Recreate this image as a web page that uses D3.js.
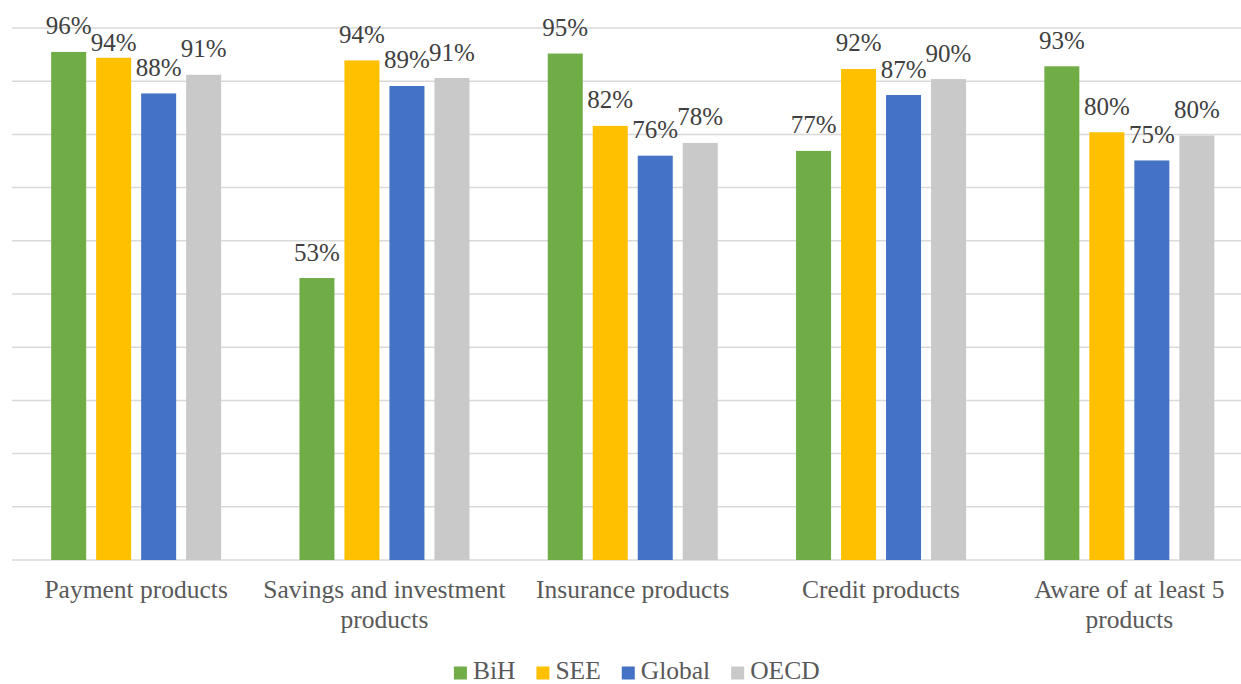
<!DOCTYPE html>
<html>
<head>
<meta charset="utf-8">
<script src="https://cdn.jsdelivr.net/npm/d3@7/dist/d3.min.js"></script>
<style>
  html, body { margin: 0; padding: 0; background: #fff; }
  svg { display: block; }
</style>
</head>
<body>
<svg id="chart" width="1241" height="684"></svg>
<script>
// Awareness of financial products, by region
const categories = [
  "Payment products",
  "Savings and investment products",
  "Insurance products",
  "Credit products",
  "Aware of at least 5 products"
];
const seriesNames = ["BiH", "SEE", "Global", "OECD"];
const seriesColors = ["#70AD47", "#FFC000", "#4472C4", "#C9C9C9"];

const bih    = [0.955, 0.530, 0.952, 0.769, 0.928];
const see    = [0.944, 0.939, 0.816, 0.923, 0.804];
const global = [0.877, 0.891, 0.760, 0.874, 0.751];
const oecd   = [0.912, 0.906, 0.784, 0.904, 0.798];
const seriesValues = [bih, see, global, oecd];

const yTicks = [0, 0.1, 0.2, 0.3, 0.4, 0.5, 0.6, 0.7, 0.8, 0.9, 1.0];

const FONT = '"Liberation Serif"';
const svg = d3.select("#chart");
const W = 1241, H = 684;

const plotLeft = 12, groupStep = 248.3;
const x0 = d3.scaleBand()
  .domain(categories)
  .range([plotLeft, plotLeft + groupStep * categories.length])
  .padding(0);

const x1 = d3.scaleBand()
  .domain(seriesNames)
  .range([0, x0.bandwidth()])
  .paddingInner(0.222)
  .paddingOuter(0.87);

const y = d3.scaleLinear().domain([0, 1]).range([560, 28]);

// horizontal gridlines
svg.append("g")
  .selectAll("line")
  .data(yTicks)
  .join("line")
  .attr("x1", plotLeft)
  .attr("x2", W)
  .attr("y1", d => y(d))
  .attr("y2", d => y(d))
  .attr("stroke", "#D9D9D9")
  .attr("stroke-width", 1.5);

// bars
const rows = categories.map((c, i) => ({
  category: c,
  values: seriesNames.map((s, j) => ({ series: s, color: seriesColors[j], value: seriesValues[j][i] }))
}));

const groups = svg.append("g")
  .selectAll("g")
  .data(rows)
  .join("g")
  .attr("transform", d => `translate(${x0(d.category)},0)`);

groups.selectAll("rect")
  .data(d => d.values)
  .join("rect")
  .attr("x", d => x1(d.series))
  .attr("width", x1.bandwidth())
  .attr("y", d => y(d.value))
  .attr("height", d => y(0) - y(d.value))
  .attr("fill", d => d.color);

// data labels, nudged down when they would sit on top of the previous label
const fmt = d3.format(".0%");
const labelSize = 25, labelGap = 17.5, labelW = 46, labelH = 17;
groups.each(function (row) {
  const g = d3.select(this);
  let prev = null;
  row.values.forEach(d => {
    const cx = x1(d.series) + x1.bandwidth() / 2;
    let base = y(d.value) - labelGap;
    if (prev) {
      const hOverlap = (prev.cx + labelW / 2) > (cx - labelW / 2);
      const top = base - labelH;
      const vOverlap = top < prev.base && base > prev.base - labelH;
      if (hOverlap && vOverlap && top > prev.base - labelH) {
        base = prev.base + labelH;
      }
    }
    g.append("text")
      .attr("x", cx)
      .attr("y", base)
      .attr("text-anchor", "middle")
      .style("font-family", FONT)
      .style("font-size", labelSize + "px")
      .attr("fill", "#404040")
      .text(fmt(d.value));
    prev = { cx, base };
  });
});

// category axis labels, wrapped within each band
const catLabels = svg.append("g")
  .selectAll("text")
  .data(categories)
  .join("text")
  .attr("x", d => x0(d) + x0.bandwidth() / 2)
  .attr("y", 598)
  .attr("text-anchor", "middle")
  .style("font-family", FONT)
  .style("font-size", "25.5px")
  .attr("fill", "#595959");

catLabels.each(function (d) {
  const t = d3.select(this);
  const words = d.split(" ");
  const maxW = x0.bandwidth() - 2;
  let line = [];
  let tspan = t.append("tspan").attr("x", t.attr("x")).attr("dy", 0);
  words.forEach(w => {
    line.push(w);
    tspan.text(line.join(" "));
    if (tspan.node().getComputedTextLength() > maxW && line.length > 1) {
      line.pop();
      tspan.text(line.join(" "));
      line = [w];
      tspan = t.append("tspan").attr("x", t.attr("x")).attr("dy", 30).text(w);
    }
  });
});

// legend
const legend = svg.append("g");
const sq = 13, sqGap = 6, itemGap = 21;
let lx = 0;
seriesNames.forEach((s, i) => {
  const it = legend.append("g");
  it.append("rect").attr("x", 0).attr("y", 666.5).attr("width", sq).attr("height", sq).attr("fill", seriesColors[i]);
  const tx = it.append("text")
    .attr("x", sq + sqGap)
    .attr("y", 679)
    .style("font-family", FONT)
    .style("font-size", "25.5px")
    .attr("fill", "#595959")
    .text(s);
  const w = sq + sqGap + tx.node().getComputedTextLength();
  it.attr("transform", `translate(${lx},0)`);
  lx += w + itemGap;
});
const legendW = lx - itemGap;
const legendCenter = (x0.range()[0] + x0.range()[1]) / 2 + 4;
legend.attr("transform", `translate(${legendCenter - legendW / 2},0)`);
</script>
</body>
</html>
